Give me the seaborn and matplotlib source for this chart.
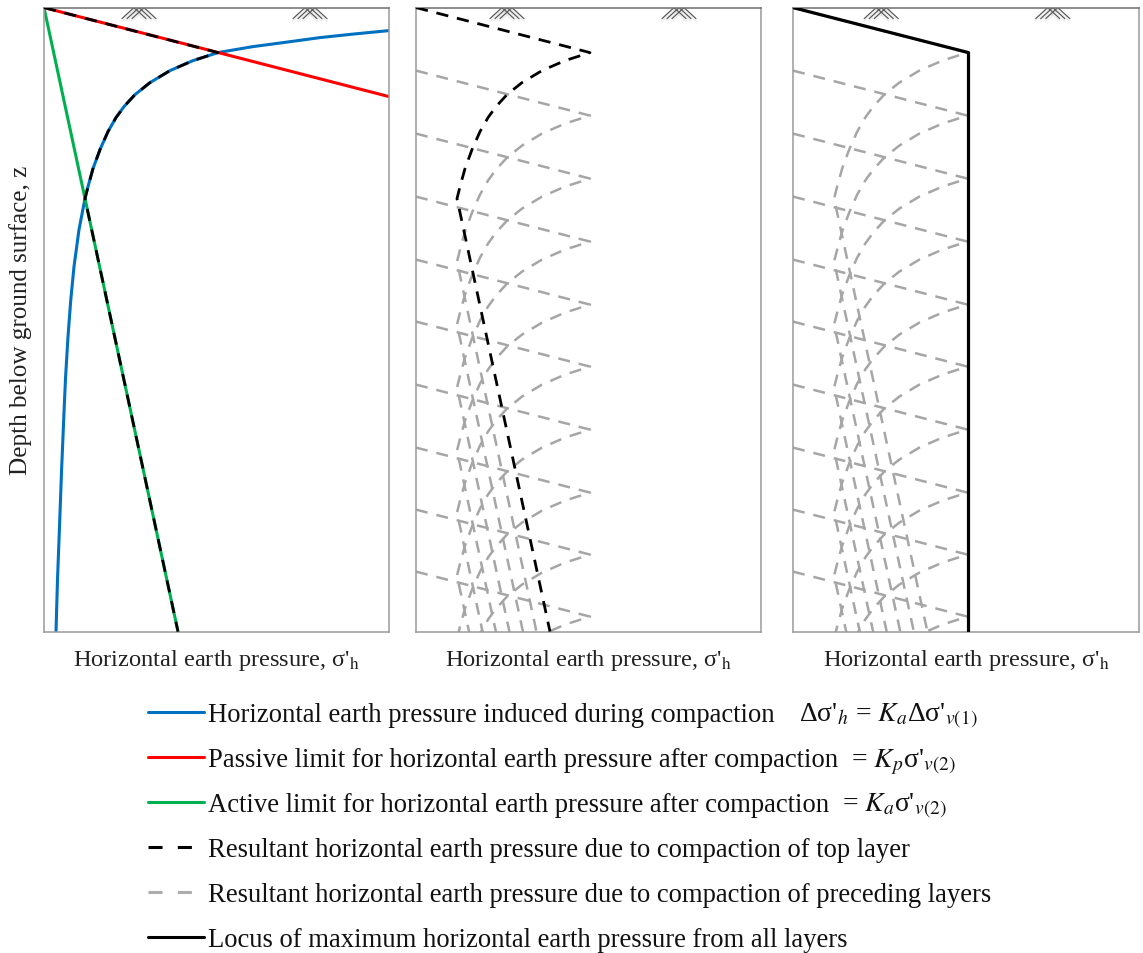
import seaborn as sns
import matplotlib.pyplot as plt

# Limits (pixels below the surface / pressure scale)
passive_x = [0, 345]
passive_z = [0, 89]
active_x = [0, 134]
active_z = [0, 624]

induced_x = [345, 309, 276, 243, 209, 174, 149, 126, 106, 91, 80, 72, 64, 56, 49, 44, 41, 35, 30, 26.8, 24, 21.6, 20.2, 17.6, 15.5, 13.5, 12]
induced_z = [23, 26.5, 30, 34.5, 39, 45, 53, 63, 75, 87, 99, 110, 124, 142, 161, 179, 191, 222, 259, 292, 329, 369, 400, 462, 519, 572, 624]

# Resultant after compaction of one layer: up the passive line, down the curve, then active
result_x = [0, 174, 149, 126, 106, 91, 80, 72, 64, 56, 49, 44, 41, 134]
result_z = [0, 45, 53, 63, 75, 87, 99, 110, 124, 142, 161, 179, 191, 624]

# Depth of the pressure peak for each compacted layer
layer_peaks = [45, 108, 171, 234, 297, 359, 422, 485, 547, 609]

locus_x = [0, 175, 175]
locus_z = [0, 45, 624]

# x centre of the two ground surface symbols in each panel
ground_marks = [[95, 266], [91, 263], [88, 259]]

legend_texts = [
    'Horizontal earth pressure induced during compaction',
    'Passive limit for horizontal earth pressure after compaction',
    'Active limit for horizontal earth pressure after compaction',
    'Resultant horizontal earth pressure due to compaction of top layer',
    'Resultant horizontal earth pressure due to compaction of preceding layers',
    'Locus of maximum horizontal earth pressure from all layers',
]
legend_eqs = [
    (799, "Δσ'$_h$ = $K_a$Δσ'$_{v(1)}$"),
    (851, "= $K_p$σ'$_{v(2)}$"),
    (842, "= $K_a$σ'$_{v(2)}$"),
]

BLUE = '#0070C0'
RED = '#FF0000'
GREEN = '#00B050'
GREY = '#A6A6A6'
TEXT = '#222222'

sns.set_theme(style='white')
plt.rcParams['font.family'] = ['Liberation Serif', 'DejaVu Serif']
plt.rcParams['mathtext.fontset'] = 'stix'

W, H = 1143, 954
fig = plt.figure(figsize=(W / 100, H / 100), dpi=100)


def add_panel(left, right):
    ax = fig.add_axes([left / W, 1 - 632.6 / H, (right - left) / W, 624 / H])
    ax.set_xticks([])
    ax.set_yticks([])
    for side, spine in ax.spines.items():
        spine.set_color('#6e6e6e' if side == 'top' else '#9a9a9a')
        spine.set_linewidth(1.1)
    return ax


def draw(ax, x, y, color, lw=2.2, ls='-', z=2):
    sns.lineplot(x=x, y=y, ax=ax, color=color, linewidth=lw, linestyle=ls, sort=False,
                 estimator=None, errorbar=None, legend=False, zorder=z,
                 dash_joinstyle='round', solid_joinstyle='round')


def draw_black_dash(ax):
    draw(ax, result_x, result_z, 'black', lw=2.0, ls=(0, (4.4, 3.2)), z=3)


def draw_layers(ax, peaks):
    for peak in peaks:
        z = [v + peak - layer_peaks[0] for v in result_z]
        draw(ax, result_x, z, GREY, lw=1.8, ls=(0, (4.8, 3.6)))


def draw_ground(ax, centres):
    for c in centres:
        for off in [-5, 0, 5]:
            for sign in [-1, 1]:
                ax.plot([c + off, c + off + sign * 12], [0, 11], color='#555555', lw=0.85, zorder=1)
                ax.plot([c + off, c + off + sign * 12], [2, 13], color='#888888', lw=1.8, alpha=0.12, zorder=1)


ax1 = add_panel(44, 389)
ax2 = add_panel(416, 761)
ax3 = add_panel(793, 1139)

# Panel 1
draw(ax1, induced_x, induced_z, BLUE)
draw(ax1, passive_x, passive_z, RED)
draw(ax1, active_x, active_z, GREEN)
draw_black_dash(ax1)

# Panel 2
draw_layers(ax2, layer_peaks[1:])
draw_black_dash(ax2)

# Panel 3
draw_layers(ax3, layer_peaks)
draw(ax3, locus_x, locus_z, 'black', lw=2.3, z=3)

for ax, marks in zip([ax1, ax2, ax3], ground_marks):
    draw_ground(ax, marks)
    ax.set_xlim(0, 345)
    ax.set_ylim(624, 0)
    ax.set_ylabel('')
    # seaborn hides the label when the axis has no ticks
    ax.set_xlabel("Horizontal earth pressure, σ'$_{\\mathrm{h}}$", fontsize=17.6, color=TEXT,
                  labelpad=11, visible=True)

# Overlay in reference pixels for the y label and the key
key = fig.add_axes([0, 0, 1, 1])
key.axis('off')
key.patch.set_alpha(0)
key.set_xlim(0, W)
key.set_ylim(H, 0)

key.text(21, 320, 'Depth below ground surface, z', rotation=90, ha='center', va='center',
         fontsize=18.1, color=TEXT)

row_y = [713, 758, 803, 848, 893, 938]
row_style = [
    (BLUE, '-'),
    (RED, '-'),
    (GREEN, '-'),
    ('black', (0, (4.6, 5.0))),
    ('#ADADAD', (0, (4.6, 5.0))),
    ('black', '-'),
]
for y, label, (color, ls) in zip(row_y, legend_texts, row_style):
    key.plot([148, 204], [y, y], color=color, lw=2.2, ls=ls)
    key.text(208, y + 9, label, fontsize=19.2, color='#111111', va='baseline')
for y, (x, eq) in zip(row_y, legend_eqs):
    key.text(x, y + 9, eq, fontsize=20, color='#111111', va='baseline')

plt.savefig('out.png', dpi=100)
